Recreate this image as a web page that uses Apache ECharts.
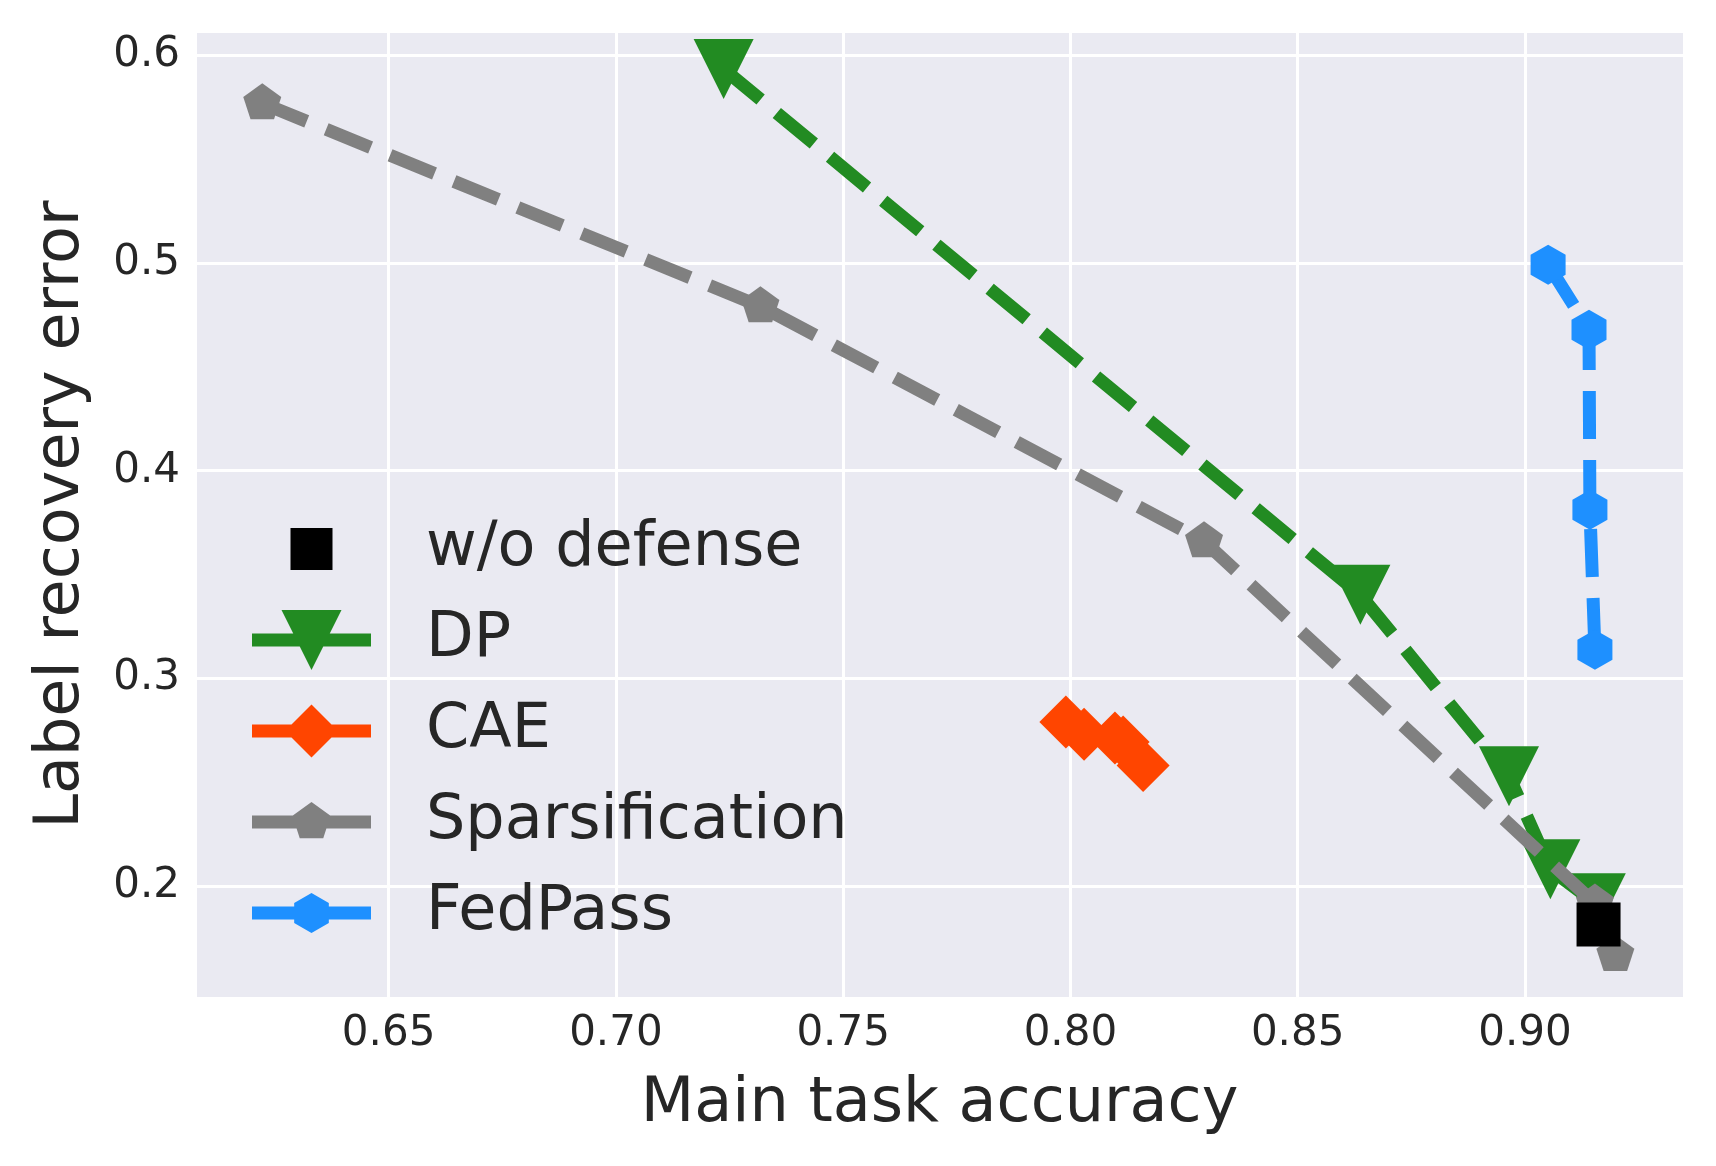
<!DOCTYPE html>
<html>
<head>
<meta charset="utf-8">
<title>Label recovery error vs main task accuracy</title>
<script src="https://cdn.jsdelivr.net/npm/echarts@6/dist/echarts.min.js"></script>
<style>
  html, body { margin: 0; padding: 0; background: #ffffff; }
  #chart { width: 1716px; height: 1166px; }
</style>
</head>
<body>
<div id="chart"></div>
<script>
// Values
const seriesNames = ['w/o defense', 'DP', 'CAE', 'Sparsification', 'FedPass'];

const woDefenseAcc = [0.9162];
const woDefenseErr = [0.1814];

const dpAcc = [0.7237, 0.8638, 0.8965, 0.9056, 0.9156];
const dpErr = [0.5935, 0.3402, 0.2528, 0.2080, 0.1916];

const caeAcc = [0.7990, 0.8030, 0.8098, 0.8116, 0.8160];
const caeErr = [0.2789, 0.2731, 0.2712, 0.2693, 0.2580];

const sparseAcc = [0.6222, 0.7318, 0.8294, 0.9154, 0.9199];
const sparseErr = [0.5770, 0.4792, 0.3660, 0.1915, 0.1667];

const fedpassAcc = [0.9051, 0.9141, 0.9143, 0.9154];
const fedpassErr = [0.4992, 0.4679, 0.3812, 0.3138];

const colors = {
  wo: '#000000',
  dp: '#228B22',
  cae: '#FF4500',
  sparse: '#808080',
  fedpass: '#1E90FF'
};

const textColor = '#262626';
const fontFamily = 'DejaVu Sans';

// marker shapes (matplotlib-like)
const triangleDown = 'path://M-30,-30 L30,-30 L0,30 Z';
const pentagon = 'path://M0,-20 L19.02,-6.18 L11.76,16.18 L-11.76,16.18 L-19.02,-6.18 Z';
const hexagon = 'path://M0,-20 L17.32,-10 L17.32,10 L0,20 L-17.32,10 L-17.32,-10 Z';

// legend icons: a 169x60 box, line from 0 to 119, marker centred at 59.5
const box = 'M0,0 L0.01,0 L0,0.01 Z M169,60 L168.99,60 L169,59.99 Z ';
const legLine = 'M0,23.5 L119,23.5 L119,36.5 L0,36.5 Z ';
const legendIcons = {
  'w/o defense': 'path://' + box + 'M38.5,9 L80.5,9 L80.5,51 L38.5,51 Z',
  'DP': 'path://' + box + legLine + 'M29.5,0 L89.5,0 L59.5,60 Z',
  'CAE': 'path://' + box + legLine + 'M59.5,3.5 L86,30 L59.5,56.5 L33,30 Z',
  'Sparsification': 'path://' + box + legLine +
    'M59.5,10 L78.52,23.82 L71.26,46.18 L47.74,46.18 L40.48,23.82 Z',
  'FedPass': 'path://' + box + legLine +
    'M59.5,10 L76.82,20 L76.82,40 L59.5,50 L42.18,40 L42.18,20 Z'
};

const pairs = (xs, ys) => xs.map((x, i) => [x, ys[i]]);

const dashed = (color) => ({
  color: color,
  width: 13,
  type: [48, 21],
  cap: 'butt'
});

const chart = echarts.init(document.getElementById('chart'), null, { renderer: 'canvas' });

const option = {
  backgroundColor: '#ffffff',
  animation: false,
  textStyle: { fontFamily: fontFamily, color: textColor },
  grid: {
    left: 195,
    right: 32,
    top: 31,
    bottom: 168,
    show: true,
    backgroundColor: '#EAEAF2',
    borderWidth: 0
  },
  xAxis: {
    type: 'value',
    min: 0.6074,
    max: 0.935,
    splitNumber: 5,
    minInterval: 0.05,
    maxInterval: 0.05,
    name: 'Main task accuracy',
    nameLocation: 'middle',
    nameGap: 76,
    nameTextStyle: { fontSize: 62, color: textColor, fontFamily: fontFamily },
    axisLine: { show: false },
    axisTick: { show: false },
    axisLabel: {
      fontSize: 42,
      color: textColor,
      fontFamily: fontFamily,
      margin: 15,
      showMinLabel: false,
      showMaxLabel: false,
      formatter: (v) => v.toFixed(2)
    },
    splitLine: { show: true, lineStyle: { color: '#ffffff', width: 3 } }
  },
  yAxis: {
    type: 'value',
    min: 0.146,
    max: 0.6118,
    splitNumber: 5,
    minInterval: 0.1,
    maxInterval: 0.1,
    name: 'Label recovery error',
    nameLocation: 'middle',
    nameGap: 102,
    nameTextStyle: { fontSize: 62, color: textColor, fontFamily: fontFamily },
    axisLine: { show: false },
    axisTick: { show: false },
    axisLabel: {
      fontSize: 42,
      color: textColor,
      fontFamily: fontFamily,
      margin: 15,
      showMinLabel: false,
      showMaxLabel: false,
      formatter: (v) => v.toFixed(1)
    },
    splitLine: { show: true, lineStyle: { color: '#ffffff', width: 3 } }
  },
  legend: {
    orient: 'vertical',
    left: 247,
    top: 513,
    itemWidth: 169,
    itemHeight: 60,
    itemGap: 29,
    selectedMode: false,
    textStyle: { fontSize: 62, color: textColor, fontFamily: fontFamily },
    data: seriesNames.map((name) => ({ name: name, icon: legendIcons[name] }))
  },
  series: [
    {
      name: 'DP',
      type: 'line',
      z: 2,
      data: pairs(dpAcc, dpErr),
      symbol: triangleDown,
      symbolSize: [60, 60],
      showSymbol: true,
      itemStyle: { color: colors.dp, opacity: 1 },
      lineStyle: dashed(colors.dp),
      emphasis: { disabled: true }
    },
    {
      name: 'CAE',
      type: 'line',
      z: 3,
      data: pairs(caeAcc, caeErr),
      symbol: 'diamond',
      symbolSize: [53, 53],
      showSymbol: true,
      itemStyle: { color: colors.cae, opacity: 1 },
      lineStyle: dashed(colors.cae),
      emphasis: { disabled: true }
    },
    {
      name: 'Sparsification',
      type: 'line',
      z: 4,
      data: pairs(sparseAcc, sparseErr),
      symbol: pentagon,
      symbolSize: [38, 36],
      symbolOffset: [0, -2],
      showSymbol: true,
      itemStyle: { color: colors.sparse, opacity: 1 },
      lineStyle: dashed(colors.sparse),
      emphasis: { disabled: true }
    },
    {
      name: 'FedPass',
      type: 'line',
      z: 5,
      data: pairs(fedpassAcc, fedpassErr),
      symbol: hexagon,
      symbolSize: [35, 40],
      showSymbol: true,
      itemStyle: { color: colors.fedpass, opacity: 1 },
      lineStyle: dashed(colors.fedpass),
      emphasis: { disabled: true }
    },
    {
      name: 'w/o defense',
      type: 'scatter',
      z: 10,
      data: pairs(woDefenseAcc, woDefenseErr),
      symbol: 'rect',
      symbolSize: 44,
      itemStyle: { color: colors.wo, opacity: 1 },
      emphasis: { disabled: true }
    }
  ]
};

chart.setOption(option);
window.addEventListener('resize', () => chart.resize());
</script>
</body>
</html>
